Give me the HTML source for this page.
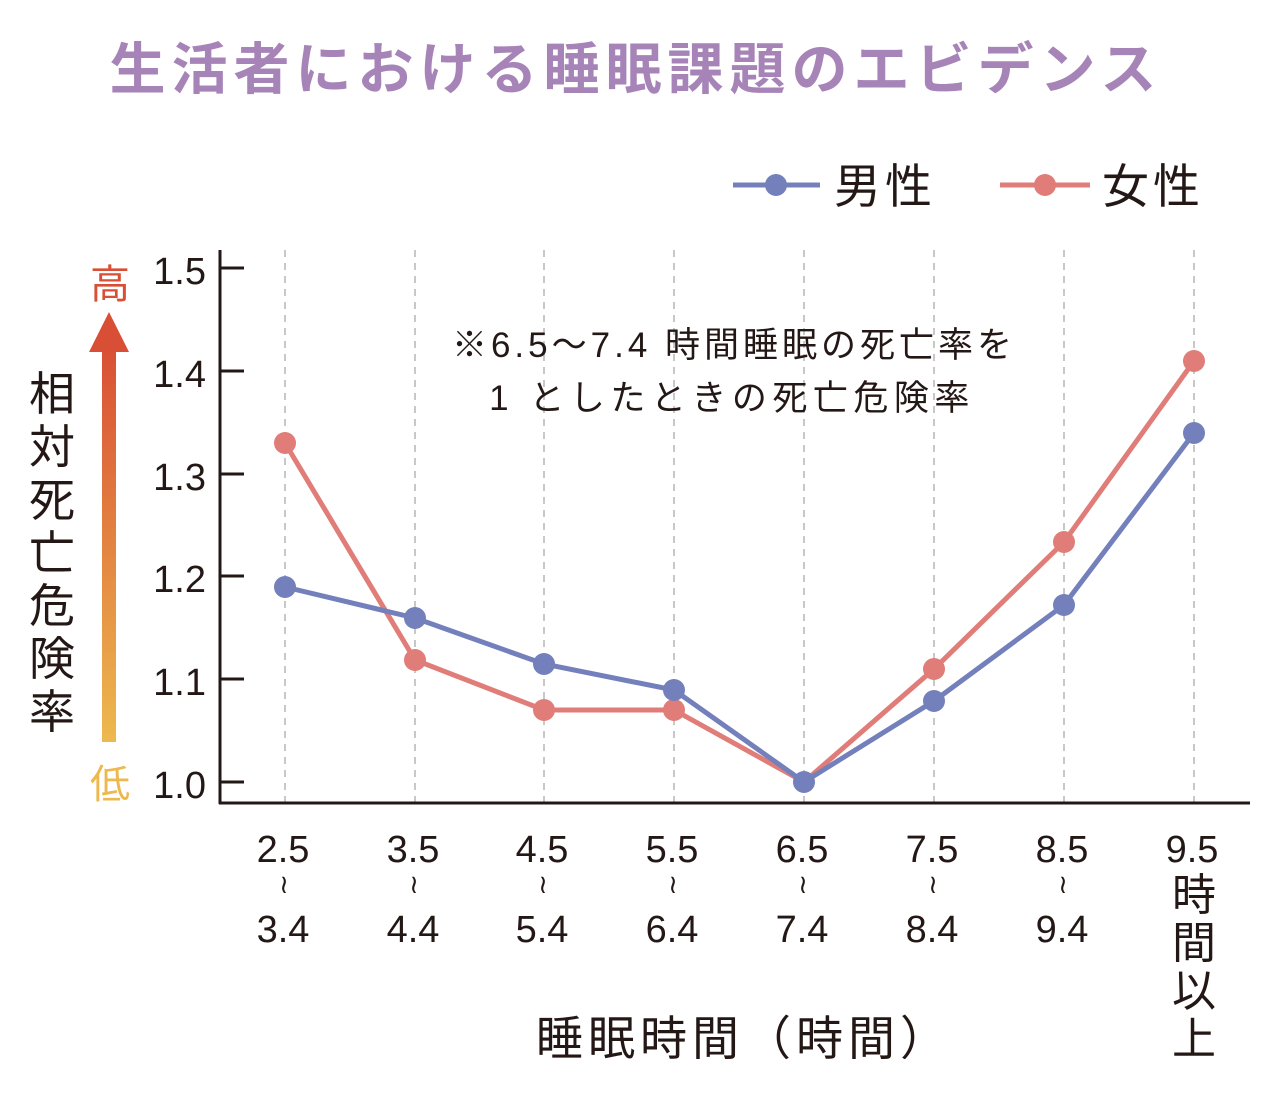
<!DOCTYPE html>
<html><head><meta charset="utf-8"><style>
html,body{margin:0;padding:0;background:#fff;}
svg text{font-family:"Liberation Sans","Noto Sans CJK JP",sans-serif;fill:#231815;}
</style></head><body>
<svg width="1272" height="1100" viewBox="0 0 1272 1100" xmlns="http://www.w3.org/2000/svg">
<defs><linearGradient id="g" x1="0" y1="1" x2="0" y2="0">
<stop offset="0" stop-color="#edb94e"/><stop offset="1" stop-color="#d94f35"/></linearGradient></defs>
<text x="636" y="89" text-anchor="middle" font-size="56" font-weight="bold" style="fill:#a784b8" letter-spacing="6">生活者における睡眠課題のエビデンス</text>
<!-- legend -->
<line x1="733" y1="185" x2="820" y2="185" stroke="#7480bb" stroke-width="5"/>
<circle cx="776" cy="185" r="11" fill="#7480bb"/>
<text x="834" y="203" font-size="47" letter-spacing="4">男性</text>
<line x1="1000" y1="185" x2="1090" y2="185" stroke="#e07d78" stroke-width="5"/>
<circle cx="1045" cy="185" r="11" fill="#e07d78"/>
<text x="1102" y="203" font-size="47" letter-spacing="4">女性</text>
<!-- grid -->
<g stroke="#c8c8c8" stroke-width="2" stroke-dasharray="7,6">
<line x1="285" y1="250" x2="285" y2="803"/><line x1="415" y1="250" x2="415" y2="803"/>
<line x1="544" y1="250" x2="544" y2="803"/><line x1="674" y1="250" x2="674" y2="803"/>
<line x1="804" y1="250" x2="804" y2="803"/><line x1="934" y1="250" x2="934" y2="803"/>
<line x1="1064" y1="250" x2="1064" y2="803"/><line x1="1194" y1="250" x2="1194" y2="803"/>
</g>
<!-- axes -->
<g stroke="#231815" stroke-width="3">
<line x1="220" y1="250" x2="220" y2="804"/><line x1="219" y1="803" x2="1250" y2="803"/>
<line x1="220" y1="268" x2="244" y2="268"/><line x1="220" y1="371" x2="244" y2="371"/>
<line x1="220" y1="474" x2="244" y2="474"/><line x1="220" y1="576" x2="244" y2="576"/>
<line x1="220" y1="679" x2="244" y2="679"/><line x1="220" y1="782" x2="244" y2="782"/>
</g>
<g font-size="38" text-anchor="end">
<text x="206" y="284">1.5</text><text x="206" y="387">1.4</text><text x="206" y="490">1.3</text>
<text x="206" y="592">1.2</text><text x="206" y="695">1.1</text><text x="206" y="798">1.0</text>
</g>
<!-- arrow -->
<rect x="102" y="348" width="14" height="394" fill="url(#g)"/>
<polygon points="109,312 89,352 129,352" fill="#d94f35"/>
<text x="110" y="298" font-size="40" text-anchor="middle" style="fill:#d94f35">高</text>
<text x="110" y="798" font-size="40" text-anchor="middle" style="fill:#edb94e">低</text>
<g font-size="46" text-anchor="middle">
<text x="52" y="410">相</text><text x="52" y="463">対</text><text x="52" y="516">死</text>
<text x="52" y="569">亡</text><text x="52" y="622">危</text><text x="52" y="675">険</text><text x="52" y="728">率</text>
</g>
<!-- note -->
<text x="734" y="357" font-size="35" text-anchor="middle" letter-spacing="4">※6.5〜7.4 時間睡眠の死亡率を</text>
<text x="732" y="410" font-size="35" text-anchor="middle" letter-spacing="5.5">1 としたときの死亡危険率</text>
<!-- series -->
<polyline points="285,443 415,660 544,710 674,710 804,782 934,669 1064,542 1194,361" fill="none" stroke="#e07d78" stroke-width="5"/>
<g fill="#e07d78"><circle cx="285" cy="443" r="11"/><circle cx="415" cy="660" r="11"/><circle cx="544" cy="710" r="11"/><circle cx="674" cy="710" r="11"/><circle cx="934" cy="669" r="11"/><circle cx="1064" cy="542" r="11"/><circle cx="1194" cy="361" r="11"/></g>
<polyline points="285,587 415,618 544,664 674,690 804,782 934,701 1064,605 1194,433" fill="none" stroke="#7480bb" stroke-width="5"/>
<g fill="#7480bb"><circle cx="285" cy="587" r="11"/><circle cx="415" cy="618" r="11"/><circle cx="544" cy="664" r="11"/><circle cx="674" cy="690" r="11"/><circle cx="804" cy="782" r="11"/><circle cx="934" cy="701" r="11"/><circle cx="1064" cy="605" r="11"/><circle cx="1194" cy="433" r="11"/></g>
<!-- x labels -->
<g font-size="38" text-anchor="middle">
<text x="283" y="862">2.5</text><text x="283" y="942">3.4</text>
<text x="413" y="862">3.5</text><text x="413" y="942">4.4</text>
<text x="542" y="862">4.5</text><text x="542" y="942">5.4</text>
<text x="672" y="862">5.5</text><text x="672" y="942">6.4</text>
<text x="802" y="862">6.5</text><text x="802" y="942">7.4</text>
<text x="932" y="862">7.5</text><text x="932" y="942">8.4</text>
<text x="1062" y="862">8.5</text><text x="1062" y="942">9.4</text>
<text x="1192" y="862">9.5</text>
</g>
<g font-size="26" text-anchor="middle">
<text x="284" y="893">≀</text><text x="414" y="893">≀</text><text x="543" y="893">≀</text><text x="673" y="893">≀</text>
<text x="803" y="893">≀</text><text x="933" y="893">≀</text><text x="1063" y="893">≀</text>
</g>
<g font-size="44" text-anchor="middle">
<text x="1194" y="910">時</text><text x="1194" y="958">間</text><text x="1194" y="1006">以</text><text x="1194" y="1054">上</text>
</g>
<text x="744" y="1055" font-size="47" text-anchor="middle" letter-spacing="5">睡眠時間（時間）</text>
</svg>
</body></html>
